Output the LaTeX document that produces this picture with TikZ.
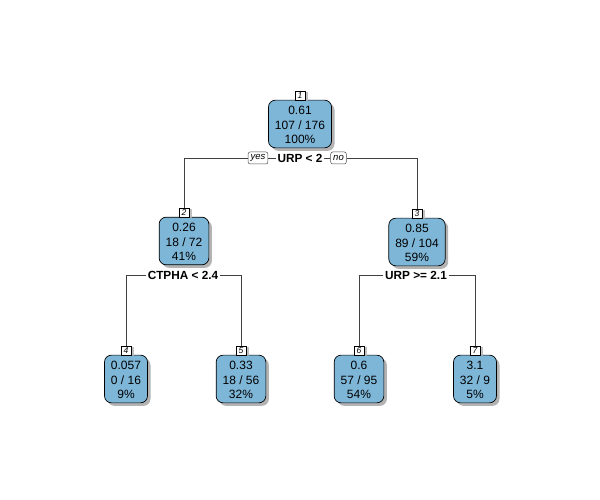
\documentclass[tikz,border=0pt]{standalone}
\usepackage{fontspec}
\setmainfont{Liberation Sans}
\usetikzlibrary{shadows}
\definecolor{leafblue}{RGB}{126,182,216}
\newcommand\boxlines[3]{\rule{0pt}{10.6pt}#1\\#2\\#3}
\tikzset{
  treebox/.style={draw=black, line width=0.7pt, fill=leafblue, rounded corners=7pt,
    align=center, font=\fontsize{12}{14.5}\selectfont, inner xsep=6.5pt, inner ysep=4pt,
    drop shadow={shadow xshift=3pt, shadow yshift=-3pt, fill=black!40, opacity=0.75}},
  numtag/.style={draw=black, line width=0.5pt, fill=white, font=\fontsize{8.5}{8.5}\selectfont\itshape,
    inner sep=0.3pt, minimum width=10pt, minimum height=9pt,
    drop shadow={shadow xshift=2.5pt, shadow yshift=-1pt, fill=black!30, opacity=0.8}},
  splittext/.style={font=\fontsize{11.8}{12}\selectfont\bfseries, inner sep=1.5pt},
  yesno/.style={draw=black!70, line width=0.5pt, rounded corners=2pt, fill=white,
    font=\fontsize{9.5}{10}\selectfont\itshape, inner xsep=2.5pt, inner ysep=0.5pt, minimum height=12pt},
  edge/.style={draw=black!75, line width=0.6pt},
}
\begin{document}
\begin{tikzpicture}[x=1pt, y=-1pt]
\useasboundingbox (0,0) rectangle (600,500);

% tree nodes
\node[treebox] (n1) at (300,124) {\boxlines{0.61}{107 / 176}{100\%}};
\node[treebox] (n2) at (184,241) {\boxlines{0.26}{18 / 72}{41\%}};
\node[treebox] (n3) at (417,242) {\boxlines{0.85}{89 / 104}{59\%}};
\node[treebox] (n4) at (126,379) {\boxlines{0.057}{0 / 16}{9\%}};
\node[treebox] (n5) at (241,379) {\boxlines{0.33}{18 / 56}{32\%}};
\node[treebox] (n6) at (359,379) {\boxlines{0.6}{57 / 95}{54\%}};
\node[treebox] (n7) at (475,379) {\boxlines{3.1}{32 / 9}{5\%}};

% node number tags
\foreach \i in {1,...,7}
  \node[numtag, anchor=south] (t\i) at ([yshift=-0.5pt]n\i.north) {\i};

% split labels
\node[splittext] (s1) at (300,158) {URP < 2};
\node[yesno] (yes) at (258,158) {yes};
\node[yesno] (no) at (338.5,158) {no};
\node[splittext] (s2) at (183,275) {CTPHA < 2.4};
\node[splittext] (s3) at (416,275) {URP >= 2.1};

% connectors
\draw[edge] (yes.west) -| (t2.north);
\draw[edge] (yes.east) -- (s1.west);
\draw[edge] (s1.east) -- (no.west);
\draw[edge] (no.east) -| (t3.north);
\draw[edge] (s2.west) -| (t4.north);
\draw[edge] (s2.east) -| (t5.north);
\draw[edge] (s3.west) -| (t6.north);
\draw[edge] (s3.east) -| (t7.north);
\end{tikzpicture}
\end{document}
